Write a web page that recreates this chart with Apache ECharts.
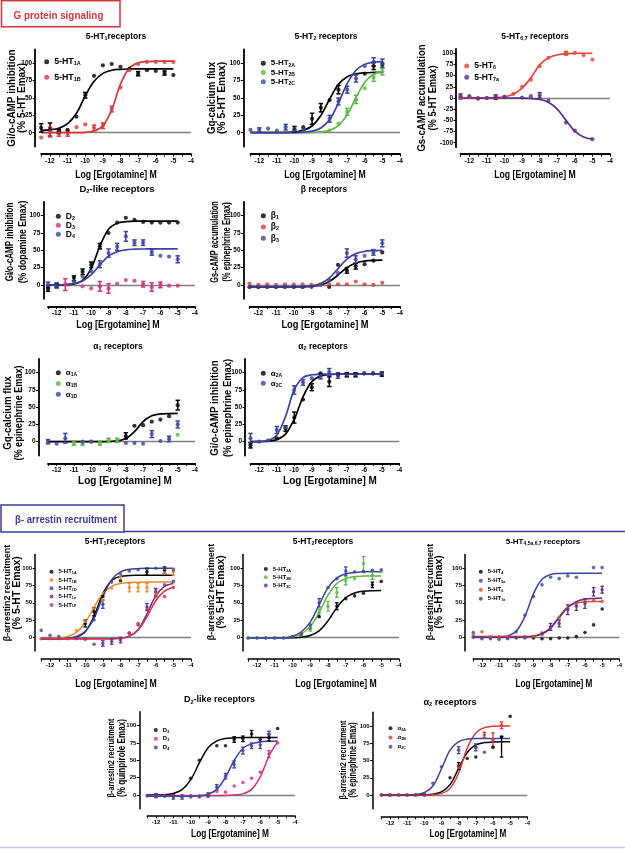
<!DOCTYPE html>
<html><head><meta charset="utf-8">
<script src="https://cdn.jsdelivr.net/npm/echarts@6/dist/echarts.min.js"></script>
<style>html,body{margin:0;padding:0;background:#fff}#c{width:625px;height:849px}</style>
</head><body><div id="c"></div>
<script>
// ---------- shared axis values ----------
const DOSES = [-12.5,-12,-11.5,-11,-10.5,-10,-9.5,-9,-8.5,-8,-7.5,-7,-6.5,-6,-5.5,-5];
const X_LABELS = [-12,-11,-10,-9,-8,-7,-6,-5,-4];
const X_TICKS = [-12.5,-12,-11.5,-11,-10.5,-10,-9.5,-9,-8.5,-8,-7.5,-7,-6.5,-6,-5.5,-5,-4.5,-4];
const Y_TICKS = [0,25,50,75,100];
const Y_TICKS_C = [-100,-75,-50,-25,0,25,50,75,100];

// ---------- G protein: 5-HT1 ----------
const gA_1A_pts = [7,5,2,4,23,54,82,97,99,95,92,85,90,89,86,83];
const gA_1A_fit = [3.4,4.2,6.5,13,28,53,74,85.5,90,91.3,91.8,92,92,92,92,92];
const gA_1A_err = [[-12.5,1,13],[-12,-5,14],[-11.5,-1,5],[-10,50,58],[-7,82,88],[-5.5,83,89]];
const gA_1B_pts = [-7,1,-1,-1,8,12,7,10,34,65,90,99,102,102,102,102];
const gA_1B_fit = [0,0,0,0,0.1,0.5,2.4,9.9,33,70,93,100.6,102.5,103,103,103];
const gA_1B_err = [[-12,-6,8],[-11.5,-5,3],[-11,-5,3],[-9.5,3,11],[-9,6,14],[-8.5,30,38]];
// ---------- G protein: 5-HT2 ----------
const gB_2A_pts = [null,null,null,null,null,5,8,20,36,47,62,null,null,85,96,98];
const gB_2A_fit = [0,0,0.1,0.1,0.4,1.1,3.3,9.7,24.8,48.5,69.6,80.6,84.8,86.3,86.8,87];
const gB_2A_err = [[-10,1,9],[-9,12,28],[-8.5,30,42],[-7.5,56,68],[-5.5,91,101]];
const gB_2B_pts = [null,null,null,null,null,null,null,null,null,3,13,30,48,64,79,88];
const gB_2B_fit = [0,0,0,0,0,0,0.1,0.4,1.1,3.5,10.2,26,50.7,72.8,84.3,88.7];
const gB_2B_err = [[-7,25,35],[-6.5,42,54],[-5.5,74,84],[-5,83,93]];
const gB_2C_pts = [4,4,6,3,8,3,5,null,null,20,45,62,78,96,102,100];
const gB_2C_fit = [0,0,0,0,0.1,0.2,0.7,2.2,6.8,18.9,42.7,71,90,98.6,101.6,102.5];
const gB_2C_err = [[-12,1,7],[-10.5,4,12],[-8,15,25],[-7.5,40,50],[-7,57,67],[-6.5,73,83],[-5.5,96,108],[-5,94,106]];
// ---------- G protein: 5-HT6,7 ----------
const gC_6_pts = [1,2,-2,0,2,3,9,25,41,71,90,null,100,101,96,86];
const gC_6_fit = [0,0,0,0,0.9,2.7,8.2,22,45,74,90,96.6,99,99.7,100,100];
const gC_6_err = [[-6.5,96,104]];
const gC_7_pts = [4,4,0,0,2,2,null,1,4,6,-6,null,-55,-73,null,-92];
const gC_7_fit = [0,0,0,0,0,0,-0.1,-0.3,-1.1,-3.3,-9.5,-24.7,-50,-74,-87,-92];
const gC_7_err = [[-12.5,-2,9],[-10.5,-3,7],[-8,0,12]];
// ---------- G protein: D2-like ----------
const gD_D2_pts = [-5,-1,null,10,19,29,56,75,90,97,94,91,90,90,90,90];
const gD_D2_fit = [0,0,0.2,1.6,6.7,24,56,80.5,89,91.3,92,92,92,92,92,92];
const gD_D2_err = [[-12.5,-9,-1],[-12,-4,2],[-11,6,13],[-10.5,15,23],[-10,25,33],[-9.5,52,60]];
const gD_D3_pts = [null,null,1,null,-2,-5,-2,-5,2,7,6,1,-3,0,-1,-1];
const gD_D3_err = [[-11.5,-8,9],[-9.5,-9,5],[-9,-12,2],[-7,-3,5],[-6.5,-9,3],[-6,-4,4]];
const gD_D4_pts = [0,-1,null,5,12,20,30,46,55,70,61,61,47,42,41,37];
const gD_D4_fit = [0,0.1,0.6,2,5.8,14.8,29,41.6,48,50.7,51.6,51.9,52,52,52,52];
const gD_D4_err = [[-12.5,-4,4],[-12,-4,3],[-9.5,25,35],[-9,40,52],[-8.5,50,60],[-8,63,77],[-7.5,57,65],[-7,57,65],[-6.5,43,51],[-5,32,42]];
// ---------- G protein: beta ----------
const gE_b1_pts = [-3,-3,-3,-3,-3,-3,-3,-2,null,-3,29,21,27,30,35,47];
const gE_b1_fit = [-3,-3,-3,-3,-3,-3,-2.8,-2,-0.1,4.8,14.3,25,31.6,34.4,35.5,35.8];
const gE_b1_err = [[-7,17,25],[-6.5,23,31]];
const gE_b2_pts = [2,0,1,0,1,1,1,0,1,1,1,1,5,1,0,3];
const gE_b3_pts = [-3,-3,-3,-3,-3,-3,-3,-3,0,7,17,46,37,42,47,60];
const gE_b3_fit = [-3,-3,-3,-3,-3,-3,-2.5,-1.4,1.8,9.7,23.5,37.3,45.2,48.4,49.5,49.8];
const gE_b3_err = [[-7,40,52],[-6.5,32,42],[-5.5,43,51],[-5,55,65]];
// ---------- G protein: alpha1 ----------
const gF_1A_pts = [null,null,null,null,null,null,null,null,null,8,23,24,29,32,37,53];
const gF_1A_fit = [0,0,0,0,0,0,0,0.2,1.1,4.5,14.5,29,37.6,40.2,40.8,41];
const gF_1A_err = [[-8,4,13],[-5,46,60]];
const gF_1B_pts = [null,null,null,-2,-2,0,-2,2,2,null,null,null,null,null,null,10];
const gF_1B_err = [[-11,-5,1],[-10.5,-5,1],[-9.5,-5,1],[-9,-1,5],[-8.5,-1,5]];
const gF_1D_pts = [0,-3,5,null,0,0,null,null,null,-2,-2,-3,11,1,4,25];
const gF_1D_err = [[-12.5,-3,3],[-11.5,-2,12],[-6.5,6,16],[-5.5,0,8],[-5,20,30]];
// ---------- G protein: alpha2 ----------
const gG_2A_pts = [-5,null,null,5,19,35,61,79,99,87,97,97,97,99,99,98];
const gG_2A_fit = [0,0.2,0.8,3,11,32.6,65,87,95,97.3,97.8,98,98,98,98,98];
const gG_2A_err = [[-12.5,-9,-1],[-10.5,15,23],[-10,27,43],[-9,74,84],[-8,80,94],[-7,94,100],[-6.5,94,100],[-5,95,101]];
const gG_2C_pts = [5,0,2,17,21,75,86,92,95,101,96,97,97,99,99,99];
const gG_2C_fit = [0,0.3,1.8,9.4,36.5,75.5,93,97,97.8,98,98,98,98,98,98,98];
const gG_2C_err = [[-12.5,-2,12],[-11,12,22],[-10,69,81],[-9.5,82,90],[-8.5,91,99],[-8,96,106],[-7.5,92,100]];

// ---------- arrestin: 5-HT1 ----------
const bH_1A_pts = [null,null,null,null,null,20,37,59,null,82,null,null,95,null,97,null];
const bH_1A_fit = [-2,-2,-2,-1.4,0.5,8.1,30.7,63.3,82.4,88.2,89.5,89.8,90,90,90,90];
const bH_1A_err = [[-10,15,25],[-9.5,31,43],[-6.5,90,100],[-5.5,92,102]];
const bH_1B_pts = [null,null,null,null,10,23,42,54,71,87,72,72,72,64,93,95];
const bH_1B_fit = [-2,-2,-1.4,1.1,7.2,21.4,43.7,63.6,73.9,78,79.4,79.8,80,80,80,80];
const bH_1B_err = [[-7.5,66,78],[-7,66,78],[-6.5,66,78],[-6,59,69],[-5,90,100]];
const bH_1D_pts = [10,3,1,null,null,null,25,48,80,92,96,98,99,100,100,98];
const bH_1D_fit = [-2,-2,-2,-1.3,1.3,8.6,27.6,58.7,83.5,94.8,98.5,99.5,100,100,100,100];
const bH_1D_err = [[-9,42,54]];
const bH_1e_pts = [null,null,null,null,-1,-2,-10,-9,-6,-4,6,18,44,66,76,81];
const bH_1e_fit = [-2,-2,-2,-2,-2,-2,-2,-2,-2,-1.5,1.6,11,34,60,73.7,78];
const bH_1e_err = [[-9,-13,-5],[-8.5,-10,-2],[-8,-8,0],[-6.5,39,49],[-6,61,71]];
const bH_1F_pts = [-2,-2,-2,-2,-2,-3,null,null,null,null,6,20,40,59,59,72];
const bH_1F_fit = [-2,-2,-2,-2,-2,-2,-2,-2,-2,-1.5,1.8,10.5,29.5,53,67,72.5];
// ---------- arrestin: 5-HT2 ----------
const bI_2A_pts = [null,null,null,null,null,0,2,13,30,null,45,56,60,64,76,81];
const bI_2A_fit = [-1,-1,-1,-1,-0.9,-0.6,0.2,2.7,9.4,23.8,43,57.6,64.3,66.8,67.6,67.8];
const bI_2A_err = [[-7.5,40,50],[-5.5,72,80]];
const bI_2B_pts = [-1,-1,-1,-1,-1,0,3,13,35,45,65,82,85,107,90,95];
const bI_2B_fit = [-1,-1,-1,-1,-0.7,1,5,15.5,36,61,78,85,88,88.7,89,89];
const bI_2B_err = [[-9,9,17],[-8.5,29,41],[-8,38,52],[-7.5,58,72],[-7,76,88],[-6,97,117],[-5.5,84,96]];
const bI_2C_pts = [-1,-1,-1,-1,-1,1,5,18,50,72,85,96,95,95,97,98];
const bI_2C_fit = [-1,-1,-1,-1,-1,1.5,8,22,47,72,86,92,94,95,95,95];
const bI_2C_err = [[-8.5,44,56],[-7,90,102]];
// ---------- arrestin: 5-HT4,5a,6,7 ----------
const bJ_4_pts = [null,null,null,null,null,null,null,-1,-2,-2,-1,-1,1,7,18,41];
const bJ_5a_pts = [7,null,null,null,null,8,32,59,76,87,85,89,87,null,101,101];
const bJ_5a_fit = [0,0,0,0.5,2,9,30,63,84,91,92.5,93,93,93,93,93];
const bJ_6_pts = [3,8,1,1,0,0,1,1,4,15,29,42,49,52,54,52];
const bJ_6_fit = [1,1,1,1,1,1,1,1.8,4.5,13.5,30,44,49.6,51.4,52,52];
const bJ_7_pts = [0,-2,-2,-3,-2,-1,-1,null,6,15,20,40,45,49,66,69];
const bJ_7_fit = [0,0,0,0,0,0,0.6,1.7,5.2,13.7,28.5,43.3,51.8,55.2,56.4,56.8];
const bJ_7_err = [[-8,10,20],[-7.5,15,25],[-7,33,47],[-6.5,39,51],[-6,42,56],[-5.5,60,72],[-5,64,74]];
// ---------- arrestin: D2-like ----------
const bK_D2_pts = [null,null,null,0,null,24,50,null,71,71,80,81,88,80,83,96];
const bK_D2_fit = [0,0,0.3,2.3,7.7,22,46.5,68,78,81.6,82.5,83,83,83,83,83];
const bK_D2_err = [[-7.5,76,84],[-7,77,85],[-6.5,83,93],[-5.5,78,88]];
const bK_D3_pts = [-1,-1,-1,-1,-1,-1,-1,-1,5,4,13,18,24,33,59,75];
const bK_D3_fit = [-1,-1,-1,-1,-1,-1,-1,-1,-1,-0.8,0,1.5,8,26,56,77];
const bK_D3_err = [[-5.5,54,64]];
const bK_D4_pts = [-1,-1,-2,-3,-3,-3,-3,0,11,27,44,64,71,72,87,null];
const bK_D4_fit = [-2,-2,-2,-2,-2,-1.8,-1,1,8,25.5,50,67,74,76.5,77.5,78];
const bK_D4_err = [[-12,-4,2],[-11,-6,0],[-10.5,-6,0],[-9,-3,3],[-8.5,7,15],[-8,23,31],[-7.5,39,49],[-7,59,69],[-6.5,67,75],[-6,67,77],[-5.5,82,92]];
// ---------- arrestin: alpha2 ----------
const bL_2A_pts = [0,0,0,0,0,0,null,null,25,42,53,55,null,69,84,114];
const bL_2A_fit = [0,0,0,0,0,0.2,1.2,4.6,15,38.5,61.6,72.5,76,76.7,77,77];
const bL_2A_err = [[-8,37,47],[-5.5,55,85]];
const bL_2B_pts = [0,0,0,0,0,0,null,null,null,40,null,69,87,80,101,null];
const bL_2B_fit = [0,0,0,0,0,0.1,0.5,2.3,9.6,32,68,90,97.7,99.5,100,100];
const bL_2B_err = [[-6.5,83,91],[-6,70,90],[-5.5,96,106]];
const bL_2C_pts = [null,null,null,null,null,2,17,41,null,65,null,69,62,null,null,null];
const bL_2C_fit = [0,0,0,0,0.8,3.4,13,38,65,77.5,81,82,82,82,82,82];
const bL_2C_err = [[-8,60,70],[-7,64,74]];

// ---------- colours / fonts ----------
const BLACK='#000000', RED='#d93a3c', GREEN='#5cb946', BLUE='#3d42a5', RED6='#e3473c',
      PURPLE='#56308f', MAGENTA='#d2307c', ORANGE='#ef8a2b', PURPLE1='#6b2f9b', CRIMSON='#d0344a';
const FONT = "'Liberation Sans',Arial,sans-serif";
const XT_FS = 10.7;   // visual size of the condensed x-axis titles

// ---------- panel layout ----------
// ytl: [line1, line2, centerX, centerY, width-size1, width-size2, lineSpacing, visual1, visual2]
// xtl: [centerX, centerY, width-size]
const panels = [
 {key:'A', box:[41.2,49.4,149.8,97.2], yr:[-20,120], yt:Y_TICKS, yOff:6, xOff:7.4, big:true,
  title:['5-HT{s|1}receptors',116,37,8.5], ytl:['Gi/o-cAMP inhibition','(% 5-HT Emax)',17,98,9.9,10,10.5,11.5,11.5], xtl:[116,175,8.7],
  leg:[44.2,56.7,10,5.6,8.8],
  ser:[['5-HT','1A',BLACK,gA_1A_pts,gA_1A_fit,gA_1A_err],['5-HT','1B',RED,gA_1B_pts,gA_1B_fit,gA_1B_err]]},
 {key:'B', box:[250.5,49.4,149.5,97.2], yr:[-20,120], yt:Y_TICKS, yOff:7.2, xOff:7.4, big:true,
  title:['5-HT{s|2} receptors',326,37,8.5], ytl:['Gq-calcium flux','(% 5-HT Emax)',216.7,98,9.6,10.3,10.5,11.5,11.5], xtl:[325,175,8.7],
  leg:[260.8,58.7,8,0.3,8],
  ser:[['5-HT','2A',BLACK,gB_2A_pts,gB_2A_fit,gB_2A_err],['5-HT','2B',GREEN,gB_2B_pts,gB_2B_fit,gB_2B_err],['5-HT','2C',BLUE,gB_2C_pts,gB_2C_fit,gB_2C_err]]},
 {key:'C', box:[460.5,48.8,149.5,98.4], yr:[-110,110], yt:Y_TICKS_C, yOff:4.5, xOff:7, big:true,
  title:['5-HT{s|6,7} receptors',535,37,8.5], ytl:['Gs-cAMP accumulation','(% 5-HT Emax)',427.5,98,9.6,9.3,11.5,11.5,11.5], xtl:[535,175,8.7],
  leg:[464.2,61.5,9,2.3,8.5],
  ser:[['5-HT','6',RED6,gC_6_pts,gC_6_fit,gC_6_err],['5-HT','7a',PURPLE,gC_7_pts,gC_7_fit,gC_7_err]]},
 {key:'D', box:[48,201.8,147,97], yr:[-20,120], yt:Y_TICKS, yOff:4.7, xOff:7.8, big:true,
  title:['D{s|2}-like receptors',117,189.5,9.5], ytl:['Gi/o-cAMP inhibition','(% dopamine Emax)',16.2,242,8,8.7,13,11.5,11.5], xtl:[118,325,8.9],
  leg:[55.8,211.7,8,0,8.5],
  ser:[['D','2',BLACK,gD_D2_pts,gD_D2_fit,gD_D2_err],['D','3',MAGENTA,gD_D3_pts,null,gD_D3_err],['D','4',BLUE,gD_D4_pts,gD_D4_fit,gD_D4_err]]},
 {key:'E', box:[249.5,201.8,150.5,97], yr:[-20,120], yt:Y_TICKS, yOff:6, xOff:7.8, big:true,
  title:['β receptors',324,189.5,8.5], ytl:['Gs-cAMP accumulation','(% epinephrine Emax)',221,242,7.3,7.6,11.5,11,11], xtl:[325,325,9.3],
  leg:[260.8,211.2,9,2.3,8.5],
  ser:[['β','1',BLACK,gE_b1_pts,gE_b1_fit,gE_b1_err],['β','2',RED,gE_b2_pts,null,null],['β','3',BLUE,gE_b3_pts,gE_b3_fit,gE_b3_err]]},
 {key:'F', box:[48,358.9,147,96.6], yr:[-20,120], yt:Y_TICKS, yOff:9.5, xOff:7.8, big:true,
  title:['α{s|1} receptors',118,347,8.5], ytl:['Gq-calcium flux','(% epinephrine Emax)',13.2,413,9.8,9.1,11.5,11.5,11.5], xtl:[125,481,10],
  leg:[55.8,368.2,9,1.8,8],
  ser:[['α','1A',BLACK,gF_1A_pts,gF_1A_fit,gF_1A_err],['α','1B',GREEN,gF_1B_pts,null,gF_1B_err],['α','1D',BLUE,gF_1D_pts,null,gF_1D_err]]},
 {key:'G', box:[250.5,358.9,148.8,96.6], yr:[-20,120], yt:Y_TICKS, yOff:5.5, xOff:7.8, big:true,
  title:['α{s|2} receptors',323,347,8.5], ytl:['Gi/o-cAMP inhibition','(% epinephrine Emax)',221.7,408,9.7,9.4,13,11.5,11.5], xtl:[330,481,10],
  leg:[260.8,368.8,9,1,8],
  ser:[['α','2A',BLACK,gG_2A_pts,gG_2A_fit,gG_2A_err],['α','2C',BLUE,gG_2C_pts,gG_2C_fit,gG_2C_err]]},
 {key:'H', box:[41.2,554.5,149.8,96.6], yr:[-20,120], yt:Y_TICKS, yOff:6, xOff:8, big:false,
  title:['5-HT{s|1}receptors',115,542,8.5], ytl:['β-arrestin2 recruitment','(% 5-HT Emax)',12,593,8.8,10.5,9.5,9.5,11], xtl:[116,684,8.7],
  leg:[49.5,568.2,7,1.3,6],
  ser:[['5-HT','1A',BLACK,bH_1A_pts,bH_1A_fit,bH_1A_err],['5-HT','1B',ORANGE,bH_1B_pts,bH_1B_fit,bH_1B_err],['5-HT','1D',BLUE,bH_1D_pts,bH_1D_fit,bH_1D_err],['5-HT','1e',PURPLE1,bH_1e_pts,bH_1e_fit,bH_1e_err],['5-HT','1F',CRIMSON,bH_1F_pts,bH_1F_fit,null]]},
 {key:'I', box:[248.1,554.5,150.9,96.6], yr:[-20,120], yt:Y_TICKS, yOff:5, xOff:8, big:false,
  title:['5-HT{s|2}receptors',323,542,8.5], ytl:['β-arrestin2 recruitment','(% 5-HT Emax)',216.3,592,8.8,10.5,9.5,9.5,11], xtl:[336,684,8.7],
  leg:[263.8,565.5,7,1.3,6],
  ser:[['5-HT','2A',BLACK,bI_2A_pts,bI_2A_fit,bI_2A_err],['5-HT','2B',GREEN,bI_2B_pts,bI_2B_fit,bI_2B_err],['5-HT','2C',BLUE,bI_2C_pts,bI_2C_fit,bI_2C_err]]},
 {key:'J', box:[473.3,554.5,147.7,96.6], yr:[-20,120], yt:Y_TICKS, yOff:8.3, xOff:8, big:false,
  title:['5-HT{s|4,5a,6,7} receptors',543,542,8], ytl:['β-arrestin2 recruitment','(% 5-HT Emax)',434.7,592,8.8,10.5,9.5,9.5,11], xtl:[554,684,8.2],
  leg:[478.8,568.2,7,2,6],
  ser:[['5-HT','4',BLACK,bJ_4_pts,null,null],['5-HT','5a',BLUE,bJ_5a_pts,bJ_5a_fit,null],['5-HT','6',RED6,bJ_6_pts,bJ_6_fit,null],['5-HT','7a',PURPLE,bJ_7_pts,bJ_7_fit,bJ_7_err]]},
 {key:'K', box:[147.3,711.8,147.7,97], yr:[-20,120], yt:Y_TICKS, yOff:8, xOff:7, big:false,
  title:['D{s|2}-like receptors',219.5,700,9], ytl:['β-arrestin2 recruitment','(% quinpirole Emax)',116.7,758,7.2,8.1,10,9,10.5], xtl:[230,834,8.3],
  leg:[153.8,726.5,7,1.7,6],
  ser:[['D','2',BLACK,bK_D2_pts,bK_D2_fit,bK_D2_err],['D','3',MAGENTA,bK_D3_pts,bK_D3_fit,bK_D3_err],['D','4',BLUE,bK_D4_pts,bK_D4_fit,bK_D4_err]]},
 {key:'L', box:[381.4,712.2,145.9,96.6], yr:[-20,120], yt:Y_TICKS, yOff:8.7, xOff:8, big:false,
  title:['α{s|2} receptors',450,702,9.2], ytl:['β-arrestin2 recruitment','(% epinephrine Emax)',348.3,760,7.2,7.2,10,9,10], xtl:[468,834,8.2],
  leg:[388.5,724.8,7,2.2,6],
  ser:[['α','2A',BLACK,bL_2A_pts,bL_2A_fit,bL_2A_err],['α','2B',RED,bL_2B_pts,bL_2B_fit,bL_2B_err],['α','2C',BLUE,bL_2C_pts,bL_2C_fit,bL_2C_err]]}
];

// ---------- build option ----------
const option = {animation:false, backgroundColor:'#fff', grid:[], xAxis:[], yAxis:[], series:[], legend:[], graphic:[]};

function errRender(color, capW, lw){
  return function(params, api){
    const x = api.value(0), lo = api.value(1), hi = api.value(2);
    const a = api.coord([x, hi]), b = api.coord([x, lo]);
    const st = {stroke: color, lineWidth: lw, fill: null};
    return {type:'group', children:[
      {type:'line', shape:{x1:a[0],y1:a[1],x2:b[0],y2:b[1]}, style:st},
      {type:'line', shape:{x1:a[0]-capW,y1:a[1],x2:a[0]+capW,y2:a[1]}, style:st},
      {type:'line', shape:{x1:b[0]-capW,y1:b[1],x2:b[0]+capW,y2:b[1]}, style:st}
    ]};
  };
}

function subStyle(fs, lh, color){
  const pad = Math.round(fs*0.45);
  return {fontSize:Math.round(fs*0.62*10)/10, fontWeight:'bold', fontFamily:FONT, fill:color, color:color,
          lineHeight:Math.max(2, lh-pad), padding:[pad,0,0,0]};
}
function text(x, y, str, fs, color, extra){
  color = color || '#000';
  return Object.assign({type:'text', x:x, y:y, silent:true, style:{
    text:str, fill:color, fontSize:fs, fontWeight:'bold', fontFamily:FONT,
    align:'center', verticalAlign:'middle', textAlign:'center', textVerticalAlign:'middle', lineHeight:fs+1.5,
    rich:{s:subStyle(fs, fs+1.5, color)}
  }}, extra||{});
}

panels.forEach((p, i) => {
  const axW = p.big ? 1.8 : 1.5;
  const tickFs = p.big ? 6.5 : 6;
  option.grid.push({left:p.box[0], top:p.box[1], width:p.box[2], height:p.box[3]});
  option.xAxis.push({type:'value', gridIndex:i, min:-12.5, max:-4, position:'bottom', offset:p.xOff,
    axisLine:{onZero:false, lineStyle:{color:'#000', width:axW}},
    axisTick:{customValues:X_TICKS, length:2.5, lineStyle:{color:'#000', width:1}},
    axisLabel:{customValues:X_LABELS, fontSize:tickFs, fontWeight:'bold', color:'#000', margin:3.5, fontFamily:FONT},
    splitLine:{show:false}});
  option.yAxis.push({type:'value', gridIndex:i, min:p.yr[0], max:p.yr[1], position:'left', offset:p.yOff,
    axisLine:{show:true, onZero:false, lineStyle:{color:'#000', width:axW}},
    axisTick:{show:true, customValues:p.yt, length:2.5, lineStyle:{color:'#000', width:1}},
    axisLabel:{customValues:p.yt, fontSize:tickFs, fontWeight:'bold', color:'#000', margin:3, fontFamily:FONT},
    splitLine:{show:false}});

  const names = [];
  p.ser.forEach((s, j) => {
    const [main, sub, color, pts, fit, err] = s;
    const name = p.key + '~' + main + '~' + sub;
    names.push(name);
    option.series.push({type:'scatter', name:name, xAxisIndex:i, yAxisIndex:i, symbol:'circle',
      symbolSize: p.big ? 4.2 : 3.6, itemStyle:{color:color}, z:4,
      data: DOSES.map((x,k) => pts[k]==null ? null : [x, pts[k]]).filter(d => d),
      markLine: j===0 ? {silent:true, symbol:['none','none'], label:{show:false}, z:1,
        lineStyle:{color:'#808080', width:1.3, type:'solid'}, data:[{yAxis:0}]} : undefined});
    if (fit) option.series.push({type:'line', name:name, xAxisIndex:i, yAxisIndex:i, showSymbol:false,
      smooth:0.35, lineStyle:{color:color, width:p.big?1.7:1.5}, itemStyle:{color:color}, z:3,
      data: DOSES.map((x,k) => [x, fit[k]])});
    if (err) option.series.push({type:'custom', name:name, xAxisIndex:i, yAxisIndex:i, z:4,
      itemStyle:{color:color}, renderItem: errRender(color, p.big?2.2:1.8, p.big?1.5:1.3), data: err});
  });

  const [lx, ly, lh, lgap, lfs] = p.leg;
  const ss = subStyle(lfs, lh, '#000');
  option.legend.push({orient:'vertical', left:lx, top:ly, padding:0, itemWidth:p.big?5:4, itemHeight:p.big?5:4,
    itemGap:lgap, icon:'circle', selectedMode:false, data:names,
    formatter: n => { const t = n.split('~'); return t[1] + '{s|' + t[2] + '}'; },
    textStyle:{fontSize:lfs, fontWeight:'bold', fontFamily:FONT, color:'#000', lineHeight:lh, rich:{s:ss}}});

  // panel title
  option.graphic.push(text(p.title[1], p.title[2], p.title[0], p.title[3]));
  // y-axis title: two condensed, rotated lines (line 1 outermost)
  const [l1, l2, cx, cy, w1, w2, lsp, v1, v2] = p.ytl;
  option.graphic.push(text(cx - lsp/2, cy, l1, v1, '#000', {rotation:Math.PI/2, scaleX:w1/v1}));
  option.graphic.push(text(cx + lsp/2, cy, l2, v2, '#000', {rotation:Math.PI/2, scaleX:w2/v2}));
  // x-axis title (condensed)
  option.graphic.push(text(p.xtl[0], p.xtl[1], 'Log [Ergotamine] M', XT_FS, '#000', {scaleX:p.xtl[2]/XT_FS}));
});

// section headers
option.graphic.push({type:'rect', shape:{x:1.5, y:0.8, width:118.5, height:26}, style:{fill:'none', stroke:'#d6363c', lineWidth:1.5}});
option.graphic.push(text(58.5, 15.5, 'G protein signaling', 11.6, '#d6363c', {scaleX:0.85}));
option.graphic.push({type:'rect', shape:{x:1, y:505, width:123, height:27}, style:{fill:'none', stroke:'#3d3d99', lineWidth:1.5}});
option.graphic.push({type:'line', shape:{x1:124, y1:531.5, x2:625, y2:531.5}, style:{stroke:'#3d3d99', lineWidth:1.5}});
option.graphic.push(text(66, 519.5, 'β- arrestin recruitment', 11.5, '#3d3d99', {scaleX:0.83}));
option.graphic.push({type:'line', shape:{x1:0, y1:847.5, x2:625, y2:847.5}, style:{stroke:'#c9c9e6', lineWidth:1.5}});

const chart = echarts.init(document.getElementById('c'), null, {renderer:'canvas'});
chart.setOption(option);
</script></body></html>
